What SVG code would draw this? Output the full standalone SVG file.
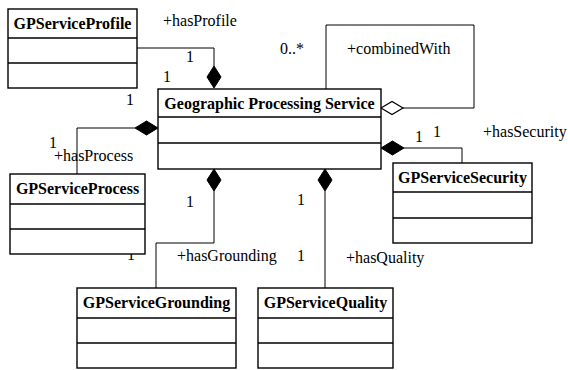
<svg xmlns="http://www.w3.org/2000/svg" width="568" height="370" viewBox="0 0 568 370">
<style>
.box{fill:#fff;stroke:#000;stroke-width:1.4}
.div{stroke:#000;stroke-width:1.4}
.t{font-family:"Liberation Serif","Times New Roman",serif;font-size:16px;font-weight:bold;text-anchor:middle;fill:#000}
.l{font-family:"Liberation Serif","Times New Roman",serif;font-size:16px;fill:#000}
.c{fill:none;stroke:#000;stroke-width:1}
.fd{fill:#000;stroke:#000;stroke-width:1}
.hd{fill:#fff;stroke:#000;stroke-width:1.2}
</style>
<rect width="568" height="370" fill="#fff"/>
<g id="connectors">
<polyline class="c" points="137,48 214,48 214,66"/>
<polygon class="fd" points="214,66 221,77 214,88 207,77"/>
<polyline class="c" points="326,89 326,25 474,25 474,108 403,108"/>
<polygon class="hd" points="381,108 392,101.5 403,108 392,114.5"/>
<polyline class="c" points="135,128 77,128 77,174"/>
<polygon class="fd" points="158,128 146.5,135 135,128 146.5,121"/>
<polyline class="c" points="214,191 214,243 156,243 156,288"/>
<polygon class="fd" points="214,169 221,180 214,191 207,180"/>
<polyline class="c" points="325,191 325,288"/>
<polygon class="fd" points="325,169 332,180 325,191 318,180"/>
<polyline class="c" points="404,148 462,148 462,163"/>
<polygon class="fd" points="381,148 392.5,141 404,148 392.5,155"/>
</g>
<g id="labels">
<text class="l" x="163" y="26">+hasProfile</text>
<text class="l" x="186" y="62">1</text>
<text class="l" x="163" y="82">1</text>
<text class="l" x="126" y="105">1</text>
<text class="l" x="280" y="54">0..*</text>
<text class="l" x="347" y="54">+combinedWith</text>
<text class="l" x="49" y="148">1</text>
<text class="l" x="54" y="161">+hasProcess</text>
<text class="l" x="186" y="207">1</text>
<text class="l" x="127" y="260">1</text>
<text class="l" x="177" y="261">+hasGrounding</text>
<text class="l" x="297" y="261">1</text>
<text class="l" x="297" y="205">1</text>
<text class="l" x="346" y="263">+hasQuality</text>
<text class="l" x="415" y="142">1</text>
<text class="l" x="433" y="137">1</text>
<text class="l" x="483" y="137">+hasSecurity</text>
</g>
<g id="GPServiceProfile">
<rect class="box" x="8" y="9" width="129" height="79"/>
<line class="div" x1="8" y1="38" x2="137" y2="38"/>
<line class="div" x1="8" y1="63" x2="137" y2="63"/>
<text class="t" x="72.5" y="29">GPServiceProfile</text>
</g>
<g id="GeographicProcessingService">
<rect class="box" x="158" y="89" width="223" height="80"/>
<line class="div" x1="158" y1="117" x2="381" y2="117"/>
<line class="div" x1="158" y1="143" x2="381" y2="143"/>
<text class="t" x="269.5" y="109">Geographic Processing Service</text>
</g>
<g id="GPServiceProcess">
<rect class="box" x="10" y="174" width="135" height="80"/>
<line class="div" x1="10" y1="204" x2="145" y2="204"/>
<line class="div" x1="10" y1="229" x2="145" y2="229"/>
<text class="t" x="77.5" y="194">GPServiceProcess</text>
</g>
<g id="GPServiceSecurity">
<rect class="box" x="393" y="163" width="139" height="80"/>
<line class="div" x1="393" y1="192" x2="532" y2="192"/>
<line class="div" x1="393" y1="218" x2="532" y2="218"/>
<text class="t" x="462.5" y="183">GPServiceSecurity</text>
</g>
<g id="GPServiceGrounding">
<rect class="box" x="77" y="288" width="159" height="80"/>
<line class="div" x1="77" y1="318" x2="236" y2="318"/>
<line class="div" x1="77" y1="343" x2="236" y2="343"/>
<text class="t" x="156.5" y="308">GPServiceGrounding</text>
</g>
<g id="GPServiceQuality">
<rect class="box" x="258" y="288" width="135" height="80"/>
<line class="div" x1="258" y1="318" x2="393" y2="318"/>
<line class="div" x1="258" y1="343" x2="393" y2="343"/>
<text class="t" x="325.5" y="308">GPServiceQuality</text>
</g>
</svg>
